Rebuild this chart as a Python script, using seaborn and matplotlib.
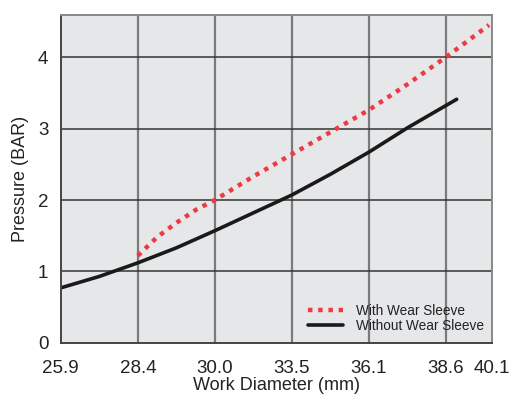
import matplotlib
matplotlib.use("Agg")
import matplotlib.pyplot as plt
import seaborn as sns
import pandas as pd

# Tick labels on the x axis (spacing in the source chart is by index, not by value)
TICK_LABELS = ["25.9", "28.4", "30.0", "33.5", "36.1", "38.6", "40.1"]
TICK_POS = [0, 1, 2, 3, 4, 5, 5.6]

# Curves, x given in tick-index units
WITH_X = [1.0, 1.25, 1.5, 1.75, 2.0, 2.5, 3.0, 3.5, 4.0, 4.5, 5.0, 5.56]
WITH_Y = [1.22, 1.48, 1.68, 1.86, 2.00, 2.33, 2.64, 2.95, 3.26, 3.62, 4.00, 4.45]

WITHOUT_X = [0.0, 0.5, 1.0, 1.5, 2.0, 2.5, 3.0, 3.5, 4.0, 4.5, 5.14]
WITHOUT_Y = [0.77, 0.93, 1.12, 1.33, 1.57, 1.82, 2.07, 2.36, 2.67, 3.01, 3.41]

sns.set_style("white")
plt.rcParams["font.family"] = ["Liberation Sans", "DejaVu Sans"]

df = pd.concat([
    pd.DataFrame({"x": WITH_X, "y": WITH_Y, "series": "With Wear Sleeve"}),
    pd.DataFrame({"x": WITHOUT_X, "y": WITHOUT_Y, "series": "Without Wear Sleeve"}),
])

fig = plt.figure(figsize=(5.11, 3.95), dpi=100)
ax = fig.add_axes([0.119, 0.132, 0.844, 0.830])
ax.set_facecolor("#e6e7e9")

sns.lineplot(data=df[df.series == "With Wear Sleeve"], x="x", y="y", ax=ax,
             color="#ee3a43", linewidth=3.2, label="With Wear Sleeve",
             estimator=None, sort=False)
sns.lineplot(data=df[df.series == "Without Wear Sleeve"], x="x", y="y", ax=ax,
             color="#1a1a1a", linewidth=2.6, label="Without Wear Sleeve",
             estimator=None, sort=False)
ax.lines[0].set_dashes([1.0, 1.3])
ax.lines[0].set_dash_capstyle("butt")
for ln in ax.lines:
    ln.set_solid_joinstyle("round")

# grid
for p in TICK_POS[1:-1]:
    ax.axvline(p, color="#7a7a7a", linewidth=1.6, zorder=0.5)
for v in [1, 2, 3, 4]:
    ax.axhline(v, color="#333333", linewidth=1.1, zorder=0.5)

ax.set_xlim(0, 5.6)
ax.set_ylim(0, 4.59)
ax.set_xticks(TICK_POS)
ax.set_xticklabels(TICK_LABELS)
ax.set_yticks([0, 1, 2, 3, 4])
ax.tick_params(length=0, labelsize=13.5, colors="#222222")
ax.tick_params(axis="x", pad=12)
ax.tick_params(axis="y", pad=9)

ax.set_xlabel("Work Diameter (mm)", fontsize=13, color="#222222", labelpad=0)
ax.set_ylabel("Pressure (BAR)", fontsize=13, color="#222222", labelpad=6)

for side in ["left", "bottom"]:
    ax.spines[side].set_color("#444444")
    ax.spines[side].set_linewidth(1.4)
for side in ["top", "right"]:
    ax.spines[side].set_color("#888888")
    ax.spines[side].set_linewidth(1.4)

leg = ax.legend(loc="lower left", frameon=False, fontsize=9.8,
                handlelength=2.6, handletextpad=0.9, labelspacing=0.1,
                borderpad=0, borderaxespad=0, bbox_to_anchor=(0.573, 0.03))
for t in leg.get_texts():
    t.set_color("#222222")

fig.savefig("out.png", dpi=100)
